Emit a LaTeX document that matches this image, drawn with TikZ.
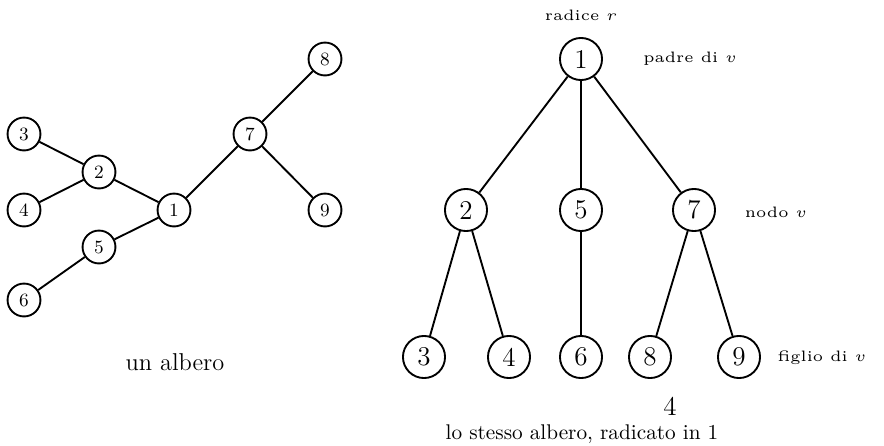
\documentclass[tikz,border=0pt]{standalone}
\begin{document}
\begin{tikzpicture}[x=0.48pt,y=-0.48pt,
  sn/.style={circle,draw,line width=0.9pt,minimum size=15.8pt,inner sep=0pt,font=\small},
  bn/.style={circle,draw,line width=0.9pt,minimum size=20.2pt,inner sep=0pt,font=\fontsize{13}{15}\selectfont},
  edge/.style={line width=0.9pt},
  lab/.style={inner sep=0pt}]
\useasboundingbox (0,0) rectangle (884,445);
% left tree
\node[sn] (l3) at (24,134) {3};
\node[sn] (l2) at (99,172) {2};
\node[sn] (l4) at (24,210) {4};
\node[sn] (l1) at (174,210) {1};
\node[sn] (l5) at (99,247) {5};
\node[sn] (l6) at (24,300) {6};
\node[sn] (l7) at (250,134) {7};
\node[sn] (l8) at (325,59) {8};
\node[sn] (l9) at (325,210) {9};
\draw[edge] (l3)--(l2) (l4)--(l2) (l2)--(l1) (l5)--(l1) (l6)--(l5) (l1)--(l7) (l7)--(l8) (l7)--(l9);
\node[lab,font=\fontsize{11.7}{14}\selectfont] (t1) at (175,362) {un albero};
% right tree
\node[bn] (r1) at (581,59) {1};
\node[bn] (r2) at (466,210) {2};
\node[bn] (r5) at (581,210) {5};
\node[bn] (r7) at (694,210) {7};
\node[bn] (r3) at (424,357) {3};
\node[bn] (r4) at (509,357) {4};
\node[bn] (r6) at (581,357) {6};
\node[bn] (r8) at (650,357) {8};
\node[bn] (r9) at (739,357) {9};
\draw[edge] (r1)--(r2) (r1)--(r5) (r1)--(r7) (r2)--(r3) (r2)--(r4) (r5)--(r6) (r7)--(r8) (r7)--(r9);
\node[lab] (a1) at (581,15) {\scalebox{1.45}{\tiny radice $r$}};
\node[lab] (a2) at (690,59) {\scalebox{1.45}{\tiny padre di $v$}};
\node[lab] (a3) at (776,212) {\scalebox{1.45}{\tiny nodo $v$}};
\node[lab] (a4) at (822,358) {\scalebox{1.45}{\tiny figlio di $v$}};
\node[lab,font=\fontsize{13}{15}\selectfont] (n4) at (670,406) {4};
\node[lab,font=\fontsize{10.2}{12}\selectfont] (t2) at (582,434) {lo stesso albero, radicato in 1};
\end{tikzpicture}
\end{document}
